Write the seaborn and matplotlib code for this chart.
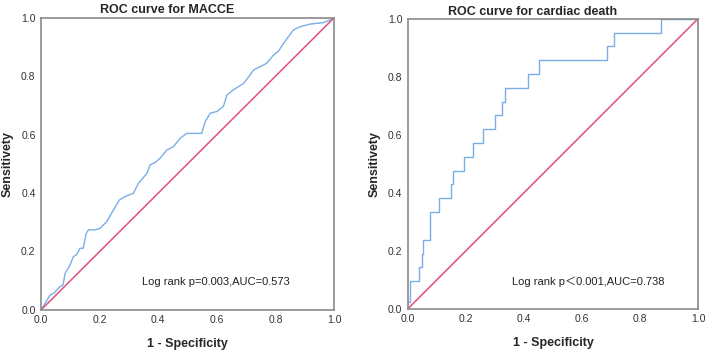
import numpy as np
import pandas as pd
import matplotlib
matplotlib.use("Agg")
import matplotlib.pyplot as plt
import seaborn as sns

# ROC for MACCE
macce_fpr = [0.0, 0.015, 0.031, 0.045, 0.053, 0.065, 0.075, 0.082, 0.099, 0.110, 0.122, 0.133,
             0.144, 0.154, 0.162, 0.185, 0.201, 0.224, 0.247, 0.267, 0.287, 0.315, 0.332,
             0.361, 0.372, 0.390, 0.406, 0.429, 0.452, 0.474, 0.497, 0.548, 0.560, 0.577,
             0.600, 0.622, 0.634, 0.656, 0.691, 0.710, 0.725, 0.747, 0.770, 0.793, 0.810,
             0.827, 0.861, 0.884, 0.918, 0.964, 0.986, 1.0]
macce_tpr = [0.0, 0.025, 0.051, 0.058, 0.068, 0.080, 0.085, 0.125, 0.154, 0.182, 0.190, 0.211,
             0.211, 0.262, 0.274, 0.274, 0.279, 0.302, 0.342, 0.376, 0.388, 0.399, 0.433,
             0.467, 0.496, 0.505, 0.519, 0.547, 0.559, 0.587, 0.604, 0.604, 0.644, 0.673,
             0.679, 0.696, 0.735, 0.753, 0.775, 0.800, 0.821, 0.832, 0.844, 0.872, 0.885,
             0.912, 0.958, 0.969, 0.978, 0.983, 0.992, 1.0]

# ROC for cardiac death (step curve)
death_fpr = [0.0, 0.0, 0.008, 0.040, 0.048, 0.054, 0.077, 0.109, 0.149, 0.154, 0.192,
             0.226, 0.259, 0.301, 0.326, 0.336, 0.413, 0.451, 0.686, 0.709, 0.872, 1.0]
death_tpr = [0.0, 0.048, 0.095, 0.143, 0.190, 0.238, 0.333, 0.381, 0.429, 0.476, 0.524,
             0.571, 0.619, 0.667, 0.714, 0.762, 0.810, 0.857, 0.905, 0.952, 1.0, 1.0]

titles = ["ROC curve for MACCE", "ROC curve for cardiac death"]
notes = ["Log rank p=0.003,AUC=0.573", "Log rank p\uff1c0.001,AUC=0.738"]
ticks = [0.0, 0.2, 0.4, 0.6, 0.8, 1.0]

sns.set_style("white")
plt.rcParams['font.family'] = ['Liberation Sans', 'Noto Sans CJK SC', 'DejaVu Sans']

blue = "#7aaee8"
red = "#e0507a"

fig = plt.figure(figsize=(7.08, 3.53), dpi=100)
ax1 = fig.add_axes([0.058, 0.122, 0.414, 0.828])
ax2 = fig.add_axes([0.576, 0.125, 0.410, 0.822])

df1 = pd.DataFrame({"fpr": macce_fpr, "tpr": macce_tpr})
df2 = pd.DataFrame({"fpr": death_fpr, "tpr": death_tpr})
diag = pd.DataFrame({"fpr": [0.0, 1.0], "tpr": [0.0, 1.0]})

sns.lineplot(data=df1, x="fpr", y="tpr", sort=False, color=blue, linewidth=1.0, ax=ax1)
sns.lineplot(data=df2, x="fpr", y="tpr", sort=False, color=blue, linewidth=1.0,
             drawstyle="steps-post", ax=ax2)

for i, ax in enumerate([ax1, ax2]):
    sns.lineplot(data=diag, x="fpr", y="tpr", color=red, linewidth=1.1, ax=ax)
    ax.set_xlim(0, 1)
    ax.set_ylim(0, 1)
    ax.set_xticks(ticks)
    ax.set_yticks(ticks)
    ax.set_xticklabels([f"{t:.1f}" for t in ticks])
    ax.set_yticklabels([f"{t:.1f}" for t in ticks])
    ax.tick_params(length=0, labelsize=7.5, colors="#333333", pad=4)
    for s in ax.spines.values():
        s.set_color("#8a8a8a")
        s.set_linewidth(1.2)
    ax.set_xlabel("1 - Specificity", fontsize=9, fontweight="bold", labelpad=9)
    ax.set_ylabel("Sensitivety", fontsize=9, fontweight="bold", labelpad=5)
    ax.set_title(titles[i], fontsize=9, fontweight="bold", x=0.43, pad=3)
    ax.text(0.345 if i == 0 else 0.36, 0.095, notes[i], fontsize=8, color="#222222",
            transform=ax.transAxes, va="center")

fig.savefig("out.png", dpi=100)
